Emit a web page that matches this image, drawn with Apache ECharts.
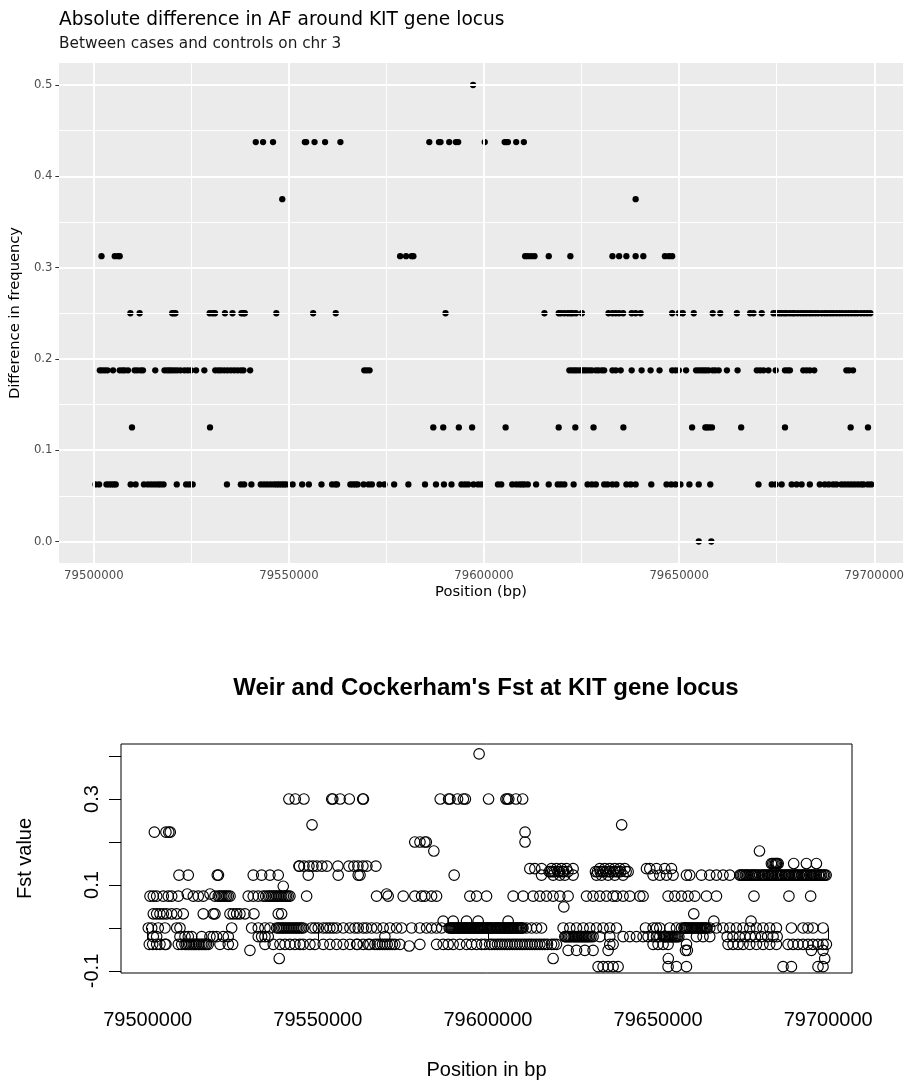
<!DOCTYPE html>
<html>
<head>
<meta charset="utf-8">
<script src="https://cdn.jsdelivr.net/npm/echarts@6/dist/echarts.min.js"></script>
<style>
  html, body { margin: 0; padding: 0; background: #ffffff; }
  #chart { width: 907px; height: 1088px; }
</style>
</head>
<body>
<div id="chart"></div>
<script>
// ---- Axis ticks -------------------------------------------------------
const REGION_START_BP = 79500000;
const positionTicks = [79500000, 79550000, 79600000, 79650000, 79700000];
const positionMinorTicks = [79525000, 79575000, 79625000, 79675000];
const afTicks = [0, 0.1, 0.2, 0.3, 0.4, 0.5];
const afMinorTicks = [0.05, 0.15, 0.25, 0.35, 0.45];
const fstTicks = [-0.1, 0, 0.1, 0.2, 0.3, 0.4];
const fstLabelTicks = [-0.1, 0.1, 0.3];

// ---- Absolute AF difference: SNP offsets (kb from region start) per level ----
const afDiff0000 = [155.02, 158.24];
const afDiff0625 = [0.43, 1.35, 3.24, 3.90, 4.52, 5.10, 5.61, 9.44, 10.71, 12.83, 13.85, 14.72, 15.56, 16.40,
  17.09, 17.86, 21.25, 23.65, 24.49, 25.33, 34.11, 37.68, 38.52, 40.38, 42.78, 43.62, 44.46, 45.33, 46.17,
  46.86, 47.45, 48.14, 48.72, 49.31, 50.94, 53.39, 55.10, 58.34, 61.05, 61.91, 62.32, 65.74, 66.40, 67.01,
  67.60, 69.13, 70.41, 71.25, 73.21, 74.49, 76.96, 80.61, 84.87, 87.68, 89.72, 91.66, 94.21, 95.08, 95.92,
  97.30, 98.47, 99.31, 103.57, 104.41, 107.22, 108.24, 109.11, 109.77, 110.38, 111.22, 113.34, 116.58,
  118.88, 119.72, 120.59, 122.96, 126.53, 127.63, 128.65, 130.79, 131.63, 132.91, 133.93, 136.48, 137.58,
  138.85, 142.86, 146.76, 147.96, 149.06, 150.33, 152.63, 155.02, 157.98, 170.33, 173.72, 174.74, 176.27,
  178.83, 180.10, 181.38, 183.49, 186.04, 187.32, 188.34, 189.46, 190.30, 191.58, 192.42, 193.29, 194.13,
  194.97, 195.84, 196.68, 197.27, 198.39, 199.23];
const afDiff1250 = [9.77, 29.77, 86.99, 89.54, 93.54, 96.94, 105.53, 119.13, 123.39, 128.06, 135.71, 153.32,
  156.71, 157.14, 157.73, 158.42, 165.89, 177.12, 193.95, 198.39];
const afDiff1875 = [1.53, 2.12, 2.81, 3.49, 4.92, 6.63, 7.32, 7.91, 8.75, 10.46, 11.15, 11.99, 12.58, 15.74,
  18.11, 18.80, 19.39, 19.97, 20.66, 21.35, 22.19, 23.21, 24.06, 24.92, 26.20, 28.32, 31.12, 31.89, 32.58,
  33.42, 34.26, 35.13, 35.97, 36.81, 37.68, 38.34, 40.05, 69.31, 69.97, 70.66, 121.86, 122.52, 123.14,
  123.72, 124.41, 125.08, 125.69, 126.27, 126.96, 127.63, 128.65, 129.34, 130.18, 130.79, 132.91, 133.75,
  135.02, 137.83, 140.38, 142.68, 144.97, 148.21, 149.06, 149.92, 151.78, 154.34, 155.02, 155.69, 156.30,
  156.89, 157.57, 158.60, 159.26, 160.13, 162.24, 164.97, 169.90, 170.74, 171.61, 172.88, 174.74, 177.12,
  177.80, 178.39, 181.81, 182.65, 183.49, 184.62, 192.86, 193.54, 194.56];
const afDiff2500 = [9.36, 11.73, 20.08, 20.48, 20.92, 29.67, 30.43, 31.05, 33.60, 35.54, 37.83, 38.34, 38.70,
  46.76, 56.20, 61.99, 90.13, 115.48, 119.13, 119.72, 120.59, 121.43, 122.12, 122.71, 123.55, 125.08,
  131.89, 132.91, 133.75, 134.62, 135.64, 137.83, 138.85, 140.13, 148.21, 149.92, 150.94, 153.75, 158.60,
  160.53, 164.79, 168.19, 169.06, 171.17, 174.16, 174.9, 175.6, 176.2, 176.9, 177.5, 178.3, 179.0, 179.6,
  180.4, 181.2, 181.9, 182.6, 183.4, 184.1, 184.9, 185.6, 186.5, 187.3, 188.0, 188.8, 189.5, 190.3, 191.1,
  191.8, 192.6, 193.4, 194.2, 195.0, 195.7, 196.6, 197.4, 198.2, 199.0];
const afDiff3125 = [1.96, 5.36, 6.20, 6.63, 78.49, 80.02, 81.45, 81.89, 110.53, 111.22, 112.07, 112.93,
  116.58, 122.12, 132.91, 134.62, 136.48, 138.85, 140.82, 146.35, 147.37, 148.21];
const afDiff3750 = [48.29, 138.85];
const afDiff4375 = [41.50, 43.37, 45.92, 54.08, 54.41, 56.56, 59.26, 63.19, 85.97, 88.44, 88.85, 91.07,
  92.78, 93.37, 100.18, 105.28, 105.69, 106.12, 108.24, 110.20];
const afDiff5000 = [97.19];
const afLevels = [0, 0.0625, 0.125, 0.1875, 0.25, 0.3125, 0.375, 0.4375, 0.5];
const afGroups = [afDiff0000, afDiff0625, afDiff1250, afDiff1875, afDiff2500, afDiff3125, afDiff3750,
  afDiff4375, afDiff5000];

// ---- Weir & Cockerham Fst: SNP offsets (kb from region start) per Fst value ----
const fstP405 = [97.4];
const fstP300 = [41.50, 43.37, 45.92, 54.08, 54.41, 56.56, 59.26, 63.19, 63.4, 85.97, 88.44, 88.85, 91.07,
  92.78, 93.37, 100.18, 105.28, 105.69, 106.12, 108.24, 110.20];
const fstP240 = [48.3, 139.3];
const fstP223 = [1.96, 5.36, 6.20, 6.63, 110.9];
const fstP200 = [78.49, 80.02, 81.45, 81.89, 110.9];
const fstP179 = [84.1, 179.8];
const fstP150 = [183.3, 183.7, 184.1, 184.5, 184.78, 185.0, 185.3, 189.86, 193.59, 196.53];
const fstP144 = [44.45, 44.6, 45.92, 47.39, 48.56, 49.73, 51.20, 52.67, 55.90, 59.14, 60.60, 61.78, 63.25,
  64.42, 67.07];
const fstP138 = [112.31, 113.78, 115.75, 118.68, 120.15, 121.62, 123.09, 125.03, 132.87, 134.34, 135.81,
  137.28, 138.75, 140.22, 146.59, 147.56, 149.53, 151.97, 153.94];
const fstP131 = [118.0, 118.4, 119.0, 119.5, 120.6, 121.0, 121.9, 122.3, 123.5, 131.6, 132.2, 133.0, 133.6,
  134.0, 134.8, 135.5, 136.0, 136.8, 137.6, 138.2, 139.0, 140.6, 141.2];
const fstP123 = [9.19, 11.93, 20.45, 20.80, 31.02, 33.49, 35.93, 38.37, 47.18, 55.99, 61.87, 62.4, 90.07,
  115.75, 119.15, 121.12, 122.59, 125.03, 131.90, 133.37, 135.31, 137.28, 139.71, 148.53, 150.50, 152.47,
  154.41, 158.34, 159.31, 162.75, 165.19, 167.16, 169.09, 171.06, 174.0, 174.3, 174.7, 175.1, 175.6, 175.9,
  176.3, 176.7, 177.3, 177.6, 178.0, 178.4, 178.8, 179.3, 179.8, 180.5, 180.8, 181.2, 181.6, 182.2, 182.5,
  183.0, 183.3, 183.7, 184.1, 184.7, 185.0, 185.4, 185.8, 186.2, 186.6, 187.2, 187.5, 187.9, 188.3, 188.6,
  189.1, 189.7, 190.0, 190.4, 190.8, 191.1, 191.5, 192.1, 192.4, 192.9, 193.2, 193.6, 194.0, 194.6, 194.9,
  195.3, 195.7, 196.1, 196.5, 197.1, 197.4, 197.8, 198.1, 198.6, 199.0, 199.4];
const fstP097 = [39.84];
const fstP079 = [11.63, 18.30, 70.21];
const fstP074 = [0.68, 1.65, 2.64, 4.58, 6.05, 7.05, 8.99, 13.40, 14.86, 16.33, 19.77, 20.74, 21.2, 21.74,
  22.2, 22.71, 23.2, 23.68, 24.2, 29.55, 31.02, 32.49, 33.96, 34.7, 35.43, 35.9, 36.43, 36.9, 37.40, 37.9,
  38.37, 38.9, 39.37, 39.9, 40.4, 40.83, 41.3, 41.80, 46.71, 67.27, 70.68, 75.09, 78.52, 80.49, 81.46, 83.43,
  84.90, 94.68, 96.65, 99.59, 107.40, 110.34, 113.28, 115.25, 117.21, 119.15, 121.12, 123.56, 128.97,
  130.90, 132.87, 134.84, 136.78, 137.78, 139.72, 141.68, 144.62, 145.59, 152.94, 154.90, 156.87, 158.81,
  160.78, 164.22, 167.16, 178.18, 188.46, 194.84];
const fstP049 = [122.3];
const fstP033 = [1.65, 2.64, 3.61, 4.58, 5.58, 7.05, 8.52, 10.46, 16.33, 19.27, 19.77, 24.18, 25.15, 26.15,
  27.11, 28.58, 31.23, 38.37, 39.37, 160.49];
const fstP016 = [86.84, 89.78, 93.71, 97.12, 105.93, 166.39, 177.32];
const fstP000 = [0.18, 1.18, 3.11, 5.08, 8.52, 9.49, 24.68, 30.55, 32.49, 34.46, 35.93, 37.90, 38.4, 38.87,
  39.4, 39.84, 40.3, 40.83, 41.3, 41.80, 42.3, 42.77, 43.3, 43.77, 44.2, 44.74, 45.2, 45.71, 48.18, 49.15,
  50.12, 51.59, 52.58, 53.55, 54.52, 55.52, 57.46, 59.43, 60.90, 61.87, 63.34, 64.34, 65.80, 67.27, 69.21,
  71.18, 73.15, 74.62, 77.56, 79.99, 81.96, 83.43, 84.90, 86.37, 88.6, 88.9, 89.2, 89.5, 89.8, 90.1, 90.4,
  90.7, 91.0, 91.3, 91.5, 91.8, 92.1, 92.5, 92.8, 93.1, 93.4, 93.7, 94.0, 94.4, 94.6, 94.9, 95.2, 95.6, 95.9,
  96.1, 96.4, 96.8, 97.0, 97.3, 97.6, 97.9, 98.2, 98.5, 98.8, 99.1, 99.5, 99.8, 100.0, 100.3, 100.6, 100.9,
  101.1, 101.4, 101.8, 102.3, 102.4, 102.7, 103.0, 103.4, 103.7, 103.9, 104.1, 104.6, 104.8, 105.0, 105.3,
  105.7, 106.0, 106.2, 106.5, 106.8, 107.0, 107.3, 107.6, 108.0, 108.3, 108.6, 108.9, 109.2, 109.6, 109.9,
  110.0, 110.3, 111.34, 112.81, 114.28, 115.75, 122.09, 124.06, 126.03, 127.97, 129.93, 131.90, 133.84,
  135.81, 137.78, 146.3, 148.53, 149.53, 150.50, 153.44, 155.40, 156.87, 157.6, 157.9, 158.0, 158.34, 158.7,
  159.1, 159.4, 159.81, 160.1, 160.5, 160.9, 161.28, 161.6, 162.0, 162.4, 162.7, 163.0, 163.4, 163.7, 164.0,
  164.4, 165.19, 167.16, 169.09, 171.06, 173.03, 174.97, 176.94, 178.91, 180.84, 182.81, 184.78, 189.19,
  192.59, 194.06, 195.53, 198.47];
const fstM020 = [1.65, 2.64, 9.49, 10.96, 11.93, 12.93, 15.86, 18.30, 19.27, 20.27, 22.21, 23.68, 32.49,
  33.49, 34.46, 35.43, 69.71, 122.59, 122.9, 123.3, 123.7, 124.1, 124.5, 125.03, 125.4, 125.8, 126.2, 126.6,
  127.00, 127.4, 127.8, 128.2, 128.6, 128.97, 129.4, 129.8, 130.3, 130.90, 132.87, 135.81, 139.72, 141.68,
  143.65, 145.59, 147.06, 148.53, 149.53, 150.50, 151.7, 151.9, 152.2, 152.6, 153.0, 153.4, 153.7, 154.0,
  154.3, 154.7, 155.0, 155.3, 155.7, 156.1, 161.28, 163.22, 165.19, 170.3, 172.0, 173.9, 175.6, 177.1,
  178.6, 180.4, 182.2, 183.8, 185.0];
const fstM038 = [0.47, 1.47, 2.64, 3.61, 5.08, 5.38, 8.99, 9.99, 10.96, 11.4, 11.93, 12.4, 12.93, 13.4,
  13.90, 14.3, 14.86, 15.3, 15.86, 16.3, 16.83, 17.3, 17.80, 21.24, 23.68, 24.97, 34.46, 36.90, 38.87, 40.34,
  41.80, 43.27, 44.74, 45.71, 47.68, 49.15, 51.59, 53.55, 55.52, 57.46, 59.43, 61.40, 61.63, 63.34, 64.81,
  65.31, 66.77, 67.5, 68.24, 69.0, 69.71, 70.4, 71.18, 71.9, 72.65, 74.12, 79.99, 84.90, 86.84, 88.31, 89.78,
  91.74, 93.71, 95.18, 96.65, 98.12, 99.09, 100.5, 101.2, 102.0, 102.8, 103.49, 104.2, 104.96, 105.7,
  106.43, 107.2, 107.90, 108.6, 109.37, 110.1, 110.84, 111.6, 112.31, 113.0, 113.78, 114.5, 115.25, 116.0,
  116.72, 117.5, 118.68, 119.4, 120.15, 135.81, 136.78, 148.53, 150.00, 151.47, 152.94, 158.34, 170.56,
  172.03, 173.50, 174.97, 176.94, 178.91, 180.84, 182.81, 184.78, 188.19, 189.66, 191.13, 192.59, 194.06,
  195.53, 197.00, 198.47, 199.47];
const fstM042 = [76.85];
const fstM052 = [30.05, 123.56, 126.03, 128.47, 130.90, 135.31, 158.05, 158.6, 195.06, 198.47];
const fstM071 = [38.66, 119.15, 153.00, 198.97];
const fstM090 = [132.37, 133.84, 135.31, 136.78, 138.25, 152.94, 155.40, 158.34, 186.72, 189.19, 197.00,
  198.47];
const fstValues = [0.405, 0.300, 0.240, 0.223, 0.200, 0.179, 0.150, 0.144, 0.138, 0.131, 0.123, 0.097, 0.079,
  0.074, 0.049, 0.033, 0.016, 0.0, -0.020, -0.038, -0.042, -0.052, -0.071, -0.090];
const fstGroups = [fstP405, fstP300, fstP240, fstP223, fstP200, fstP179, fstP150, fstP144, fstP138, fstP131,
  fstP123, fstP097, fstP079, fstP074, fstP049, fstP033, fstP016, fstP000, fstM020, fstM038, fstM042, fstM052,
  fstM071, fstM090];

// ---- Build point lists ------------------------------------------------
const kbToBp = kb => REGION_START_BP + Math.round(kb * 1000);
const afPoints = [];
afGroups.forEach((grp, i) => grp.forEach(kb => afPoints.push([kbToBp(kb), afLevels[i]])));
const fstPoints = [];
fstGroups.forEach((grp, i) => grp.forEach(kb => fstPoints.push([kbToBp(kb), fstValues[i]])));

// ggplot-style panel grid lines, drawn through the top panel's scales
const gridLineData = [].concat(
  positionTicks.map(v => ({ xAxis: v, lineStyle: { color: '#ffffff', width: 1.9, type: 'solid' } })),
  positionMinorTicks.map(v => ({ xAxis: v, lineStyle: { color: '#ffffff', width: 0.95, type: 'solid' } })),
  afTicks.map(v => ({ yAxis: v, lineStyle: { color: '#ffffff', width: 1.9, type: 'solid' } })),
  afMinorTicks.map(v => ({ yAxis: v, lineStyle: { color: '#ffffff', width: 0.95, type: 'solid' } }))
);

const GG_FONT = 'DejaVu Sans';
const R_FONT = 'Liberation Sans';

const chart = echarts.init(document.getElementById('chart'), null, { renderer: 'canvas' });
chart.setOption({
  animation: false,
  backgroundColor: '#ffffff',
  title: [
    { text: 'Absolute difference in AF around KIT gene locus', left: 59, top: 11, padding: 0,
      textStyle: { fontFamily: GG_FONT, fontSize: 18.6, fontWeight: 'normal', color: '#000000' } },
    { text: 'Between cases and controls on chr 3', left: 59, top: 37, padding: 0,
      textStyle: { fontFamily: GG_FONT, fontSize: 15.3, fontWeight: 'normal', color: '#1a1a1a' } },
    { text: "Weir and Cockerham's Fst at KIT gene locus", left: 486, textAlign: 'center', top: 676,
      padding: 0, textStyle: { fontFamily: R_FONT, fontSize: 24, fontWeight: 'bold', color: '#000000' } }
  ],
  grid: [
    { left: 59, top: 63, width: 848, height: 500, show: true, backgroundColor: '#EBEBEB', borderWidth: 0 },
    { left: 121, top: 744, width: 731, height: 229, show: true, backgroundColor: '#ffffff',
      borderColor: '#000000', borderWidth: 1 }
  ],
  xAxis: [
    { type: 'value', gridIndex: 0, min: 79491071, max: 79707397,
      name: 'Position (bp)', nameLocation: 'middle', nameGap: 22,
      nameTextStyle: { fontFamily: GG_FONT, fontSize: 14.7, color: '#000000' },
      axisLine: { show: false },
      axisTick: { show: true, length: 3.7, lineStyle: { color: '#333333', width: 1 }, customValues: positionTicks },
      axisLabel: { customValues: positionTicks, margin: 7, fontFamily: GG_FONT, fontSize: 11.7, color: '#4D4D4D',
        formatter: v => String(v) },
      splitLine: { show: false }, minorSplitLine: { show: false } },
    { type: 'value', gridIndex: 1, min: 79492156, max: 79706992,
      name: 'Position in bp', nameLocation: 'middle', nameGap: 87,
      nameTextStyle: { fontFamily: R_FONT, fontSize: 20, color: '#000000' },
      axisLine: { show: false },
      axisTick: { show: true, length: 12, lineStyle: { color: '#000000', width: 1 }, customValues: positionTicks },
      axisLabel: { customValues: positionTicks, margin: 37, fontFamily: R_FONT, fontSize: 20, color: '#000000',
        formatter: v => String(v) },
      splitLine: { show: false } }
  ],
  yAxis: [
    { type: 'value', gridIndex: 0, min: -0.02355, max: 0.5241,
      name: 'Difference in frequency', nameLocation: 'middle', nameGap: 34, nameRotate: 90,
      nameTextStyle: { fontFamily: GG_FONT, fontSize: 14.7, color: '#000000' },
      axisLine: { show: false },
      axisTick: { show: true, length: 3.7, lineStyle: { color: '#333333', width: 1 }, customValues: afTicks },
      axisLabel: { customValues: afTicks, margin: 6.5, fontFamily: GG_FONT, fontSize: 11.7, color: '#4D4D4D',
        formatter: v => v.toFixed(1) },
      splitLine: { show: false } },
    { type: 'value', gridIndex: 1, min: -0.1047, max: 0.428,
      name: 'Fst value', nameLocation: 'middle', nameGap: 86, nameRotate: 90,
      nameTextStyle: { fontFamily: R_FONT, fontSize: 20, color: '#000000' },
      axisLine: { show: false },
      axisTick: { show: true, length: 12, lineStyle: { color: '#000000', width: 1 }, customValues: fstTicks },
      axisLabel: { customValues: fstLabelTicks, rotate: 90, margin: 19, fontFamily: R_FONT, fontSize: 20,
        color: '#000000', formatter: v => v.toFixed(1) },
      splitLine: { show: false } }
  ],
  series: [
    { type: 'scatter', xAxisIndex: 0, yAxisIndex: 0, data: [], silent: true, z: 1,
      markLine: { silent: true, symbol: ['none', 'none'], label: { show: false }, animation: false,
        emphasis: { disabled: true }, data: gridLineData } },
    { type: 'scatter', name: 'AF difference', xAxisIndex: 0, yAxisIndex: 0, data: afPoints, z: 3,
      symbol: 'circle', symbolSize: 6.3, itemStyle: { color: '#000000', opacity: 1 }, silent: true },
    { type: 'scatter', name: 'Fst', xAxisIndex: 1, yAxisIndex: 1, data: fstPoints, z: 3,
      symbol: 'circle', symbolSize: 10.5,
      itemStyle: { color: 'rgba(0,0,0,0)', borderColor: '#000000', borderWidth: 1.15, opacity: 1 }, silent: true }
  ]
});
</script>
</body>
</html>
